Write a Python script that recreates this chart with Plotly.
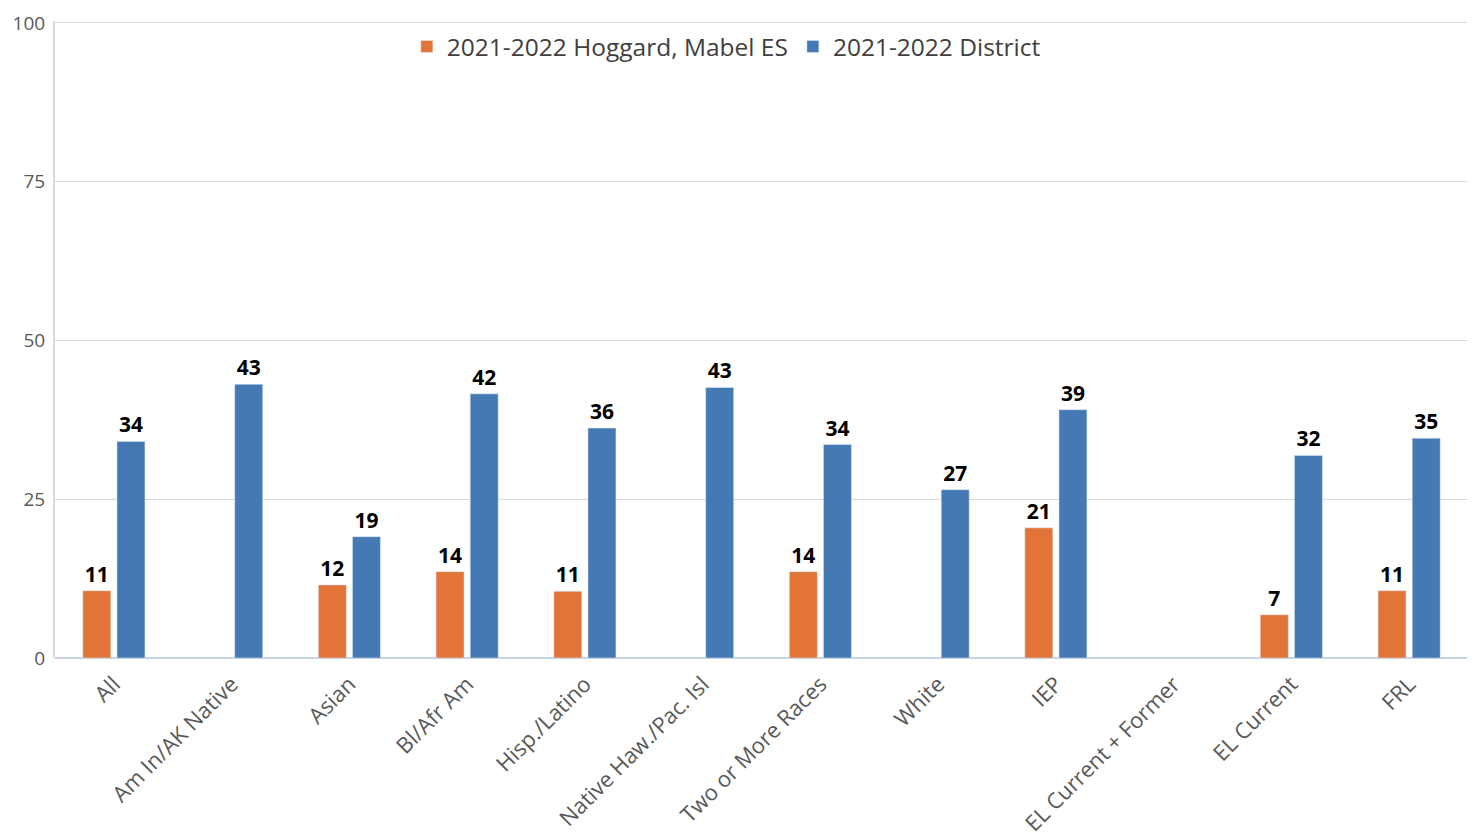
import plotly.graph_objects as go

categories = ["All", "Am In/AK Native", "Asian", "Bl/Afr Am", "Hisp./Latino",
              "Native Haw./Pac. Isl", "Two or More Races", "White", "IEP",
              "EL Current + Former", "EL Current", "FRL"]
school = [10.6, None, 11.5, 13.6, 10.5, None, 13.6, None, 20.5, None, 6.8, 10.6]
district = [34.1, 43.1, 19.1, 41.6, 36.2, 42.6, 33.6, 26.5, 39.1, None, 31.9, 34.6]
series_names = ["2021-2022 Hoggard, Mabel ES", "2021-2022 District"]
colors = ["#E37437", "#4579B3"]

fig = go.Figure()
for name, vals, col in zip(series_names, [school, district], colors):
    fig.add_trace(go.Bar(
        x=categories, y=vals, name=name, marker_color=col,
        texttemplate="%{y:.0f}", textposition="outside", cliponaxis=False,
        textfont=dict(family="Open Sans", size=21, color="#000000", weight="bold"),
    ))

fig.update_layout(
    width=1475, height=835,
    margin=dict(l=47, r=15, t=13, b=185, autoexpand=False),
    paper_bgcolor="white", plot_bgcolor="white",
    barmode="group", bargap=0.42, bargroupgap=0.18,
    font=dict(family="Open Sans", color="#595959"),
    legend=dict(orientation="h", x=0.249, y=0.96, xanchor="left", yanchor="middle",
                font=dict(size=24.5, color="#404040"), bgcolor="rgba(0,0,0,0)",
                itemwidth=30),
    showlegend=True,
)
fig.update_yaxes(range=[0, 100.3], tickvals=[0, 25, 50, 75, 100], automargin=False,
                 gridcolor="#D9D9D9", gridwidth=1, showline=True, linecolor="#D9D9D9",
                 linewidth=2, zeroline=True, zerolinecolor="#C7D3E8", zerolinewidth=2,
                 tickfont=dict(size=19, color="#595959"), ticks="", ticklabelstandoff=4,
                 ticklabeloverflow="allow")
fig.update_xaxes(tickangle=-45, tickfont=dict(size=22, color="#595959"), showline=False,
                 ticks="", automargin=False, ticklabelstandoff=8)

fig.write_html("out.html")
